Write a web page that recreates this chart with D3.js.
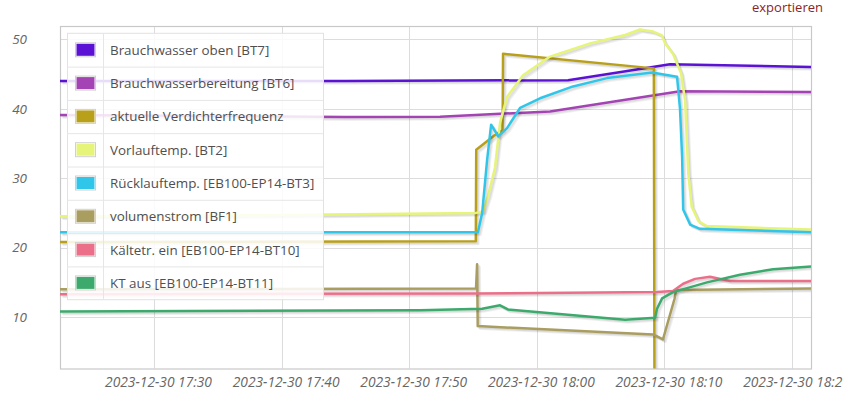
<!DOCTYPE html>
<html>
<head>
<meta charset="utf-8">
<script src="https://cdn.jsdelivr.net/npm/d3@7/dist/d3.min.js"></script>
<style>
  body { margin: 0; background: #fff; font-family: "Open Sans", sans-serif; }
</style>
</head>
<body>
<div id="chart"></div>
<script>
var day = '2023-12-30 ';

var seriesNames = [
  'Brauchwasser oben [BT7]',
  'Brauchwasserbereitung [BT6]',
  'aktuelle Verdichterfrequenz',
  'Vorlauftemp. [BT2]',
  'Rücklauftemp. [EB100-EP14-BT3]',
  'volumenstrom [BF1]',
  'Kältetr. ein [EB100-EP14-BT10]',
  'KT aus [EB100-EP14-BT11]'
];

var bt7 = [['17:22:38', 44.0], ['17:45:00', 44.0], ['18:02:27', 44.1], ['18:08:05', 45.7],
  ['18:10:26', 46.4], ['18:21:29', 46.0]];
var bt6 = [['17:22:38', 39.1], ['17:45:00', 38.8], ['17:52:25', 38.85], ['18:01:02', 39.6],
  ['18:11:13', 42.5], ['18:21:29', 42.4]];
var verdichter = [['17:22:38', 20.8], ['17:55:13', 20.9], ['17:55:15', 34.1], ['17:56:43', 36.2],
  ['17:57:19', 36.9], ['17:57:21', 47.9], ['18:09:10', 45.8], ['18:09:13', 0], ['18:21:29', 0]];
var vorlauf = [['17:22:38', 24.5], ['17:40:00', 24.7], ['17:55:14', 25.0], ['17:55:47', 25.2],
  ['17:56:11', 27.5], ['17:56:43', 31.5], ['17:57:07', 38.0], ['17:57:40', 41.7], ['17:58:55', 44.8],
  ['18:01:02', 47.5], ['18:04:10', 49.4], ['18:06:55', 50.6], ['18:08:05', 51.4], ['18:09:07', 51.1],
  ['18:09:46', 50.6], ['18:10:03', 49.4], ['18:10:40', 47.9], ['18:11:18', 45.1], ['18:11:37', 41.2],
  ['18:11:45', 35.5], ['18:11:52', 30.7], ['18:12:08', 25.9], ['18:12:40', 23.8], ['18:13:19', 23.1],
  ['18:21:29', 22.6]];
var ruecklauf = [['17:22:38', 22.2], ['17:55:23', 22.2], ['17:55:43', 25.0], ['17:56:06', 32.6],
  ['17:56:25', 37.7], ['17:56:58', 36.0], ['17:57:40', 37.2], ['17:58:41', 40.1], ['18:00:15', 41.5],
  ['18:02:50', 43.2], ['18:05:30', 44.4], ['18:09:02', 45.2], ['18:10:59', 44.6], ['18:11:13', 40.0],
  ['18:11:23', 33.0], ['18:11:28', 25.5], ['18:12:01', 23.3], ['18:12:47', 22.7], ['18:21:29', 22.2]];
var volumenstrom = [['17:22:38', 14.0], ['17:55:14', 14.1], ['17:55:19', 17.6], ['17:55:22', 8.7],
  ['18:09:07', 7.5], ['18:09:53', 6.8], ['18:10:47', 12.6], ['18:10:55', 13.9], ['18:21:29', 14.1]];
var kaeltetrEin = [['17:22:38', 13.3], ['17:55:00', 13.4], ['18:09:25', 13.6], ['18:10:40', 13.75],
  ['18:11:28', 14.8], ['18:12:24', 15.5], ['18:13:34', 15.8], ['18:15:08', 15.2], ['18:21:29', 15.2]];
var ktAus = [['17:22:38', 10.8], ['17:50:51', 11.0], ['17:55:43', 11.2], ['17:57:07', 11.7],
  ['17:57:44', 11.1], ['18:06:55', 9.6], ['18:09:16', 9.9], ['18:09:25', 11.2], ['18:09:49', 12.7],
  ['18:10:40', 13.6], ['18:13:20', 15.0], ['18:15:55', 16.1], ['18:18:31', 16.9], ['18:21:29', 17.3]];

var xTicks = ['17:30', '17:40', '17:50', '18:00', '18:10', '18:20'];
var yTicks = [10, 20, 30, 40, 50];
var xExtent = ['17:22:38', '18:21:29'];
var yExtent = [2.6, 51.9];

var colors = ['#5b12d4', '#a444b4', '#b9a01a', '#e6f47a', '#30c6ea', '#a99d60', '#ec6f8a', '#3caa6c'];

var width = 843;
var height = 399;
var plot = { left: 60, right: 811, top: 26, bottom: 368.5 };

var parseFull = d3.timeParse('%Y-%m-%d %H:%M:%S');
var parseMin = d3.timeParse('%Y-%m-%d %H:%M');

var allSeries = [bt7, bt6, verdichter, vorlauf, ruecklauf, volumenstrom, kaeltetrEin, ktAus].map(function(s) {
  return s.map(function(d) { return { t: parseFull(day + d[0]), v: d[1] }; });
});

var svg = d3.select('#chart')
  .append('svg')
  .attr('width', width)
  .attr('height', height);

var x = d3.scaleTime()
  .domain(xExtent.map(function(t) { return parseFull(day + t); }))
  .range([plot.left, plot.right]);

var y = d3.scaleLinear()
  .domain(yExtent)
  .range([plot.bottom, plot.top]);

// grid
var grid = svg.append('g');
grid.selectAll('.hgrid')
  .data(yTicks)
  .enter().append('line')
  .attr('x1', plot.left).attr('x2', plot.right)
  .attr('y1', function(d) { return Math.round(y(d)) + 0.5; })
  .attr('y2', function(d) { return Math.round(y(d)) + 0.5; })
  .attr('stroke', '#dcdcdc');
grid.selectAll('.vgrid')
  .data(xTicks)
  .enter().append('line')
  .attr('y1', plot.top).attr('y2', plot.bottom)
  .attr('x1', function(d) { return Math.round(x(parseMin(day + d))) + 0.5; })
  .attr('x2', function(d) { return Math.round(x(parseMin(day + d))) + 0.5; })
  .attr('stroke', '#dcdcdc');

svg.append('rect')
  .attr('x', plot.left + 0.5).attr('y', plot.top + 0.5)
  .attr('width', plot.right - plot.left).attr('height', plot.bottom - plot.top)
  .attr('fill', 'none')
  .attr('stroke', '#c8c8c8')
  .attr('stroke-width', 1.2);

// axes (labels only)
var xAxis = d3.axisBottom(x)
  .tickValues(xTicks.map(function(t) { return parseMin(day + t); }))
  .tickFormat(d3.timeFormat('%Y-%m-%d %H:%M'))
  .tickSize(0).tickPadding(0);
var gx = svg.append('g')
  .attr('transform', 'translate(0,' + 377 + ')')
  .call(xAxis);
gx.select('.domain').remove();
gx.selectAll('text')
  .attr('dx', 4)
  .style('font-family', '"Open Sans", sans-serif')
  .style('font-size', '13.8px')
  .style('font-style', 'italic')
  .attr('fill', '#666');

var yAxis = d3.axisLeft(y)
  .tickValues(yTicks)
  .tickSize(0).tickPadding(0);
var gy = svg.append('g')
  .attr('transform', 'translate(27,0)')
  .call(yAxis);
gy.select('.domain').remove();
gy.selectAll('text')
  .style('font-family', '"Open Sans", sans-serif')
  .style('font-size', '13.5px')
  .style('font-style', 'italic')
  .attr('fill', '#666');

// lines
svg.append('clipPath').attr('id', 'clip')
  .append('rect')
  .attr('x', plot.left).attr('y', plot.top)
  .attr('width', plot.right - plot.left).attr('height', plot.bottom - plot.top);

var line = d3.line()
  .x(function(d) { return x(d.t); })
  .y(function(d) { return y(d.v); });

var lines = svg.append('g').attr('clip-path', 'url(#clip)');
allSeries.forEach(function(s, i) {
  var g = lines.append('g');
  [3, 2, 1].forEach(function(k) {
    g.append('path')
      .attr('d', line(s))
      .attr('transform', 'translate(' + (k * 0.88) + ',' + (k * 0.88) + ')')
      .attr('fill', 'none')
      .attr('stroke', '#000')
      .attr('stroke-opacity', 0.06)
      .attr('stroke-width', 2.5)
      .attr('stroke-linejoin', 'round');
  });
  g.append('path')
    .attr('d', line(s))
    .attr('fill', 'none')
    .attr('stroke', colors[i])
    .attr('stroke-width', 2.5)
    .attr('stroke-linejoin', 'round');
});

// legend
var legend = { x: 67, y: 33.3, w: 256, row: 33.3, col: 36 };
var lg = svg.append('g');
lg.append('rect')
  .attr('x', legend.x + 0.5).attr('y', legend.y)
  .attr('width', legend.w).attr('height', legend.row * seriesNames.length)
  .attr('fill', '#fff').attr('fill-opacity', 0.86)
  .attr('stroke', '#e2e2e2');
lg.append('line')
  .attr('x1', legend.x + legend.col + 0.5).attr('x2', legend.x + legend.col + 0.5)
  .attr('y1', legend.y).attr('y2', legend.y + legend.row * seriesNames.length)
  .attr('stroke', '#e6e6e6');

var rows = lg.selectAll('.row')
  .data(seriesNames)
  .enter().append('g')
  .attr('transform', function(d, i) { return 'translate(' + legend.x + ',' + (legend.y + i * legend.row) + ')'; });

rows.filter(function(d, i) { return i > 0; })
  .append('line')
  .attr('x1', 0).attr('x2', legend.w)
  .attr('y1', 0.5).attr('y2', 0.5)
  .attr('stroke', '#e6e6e6');

rows.append('rect')
  .attr('x', 8.5).attr('y', 9.5)
  .attr('width', 20).attr('height', 14)
  .attr('fill', '#fff')
  .attr('stroke', '#d0d0d0');
rows.append('rect')
  .attr('x', 9.5).attr('y', 10.5)
  .attr('width', 18).attr('height', 12)
  .attr('fill', function(d, i) { return colors[i]; });

rows.append('text')
  .attr('x', 43).attr('y', 21.5)
  .style('font-size', '13.4px')
  .attr('fill', '#4f4f4f')
  .text(function(d) { return d; });

svg.append('text')
  .attr('x', 823).attr('y', 12)
  .attr('text-anchor', 'end')
  .style('font-size', '13px')
  .attr('fill', '#8c2424')
  .text('exportieren');
</script>
</body>
</html>
